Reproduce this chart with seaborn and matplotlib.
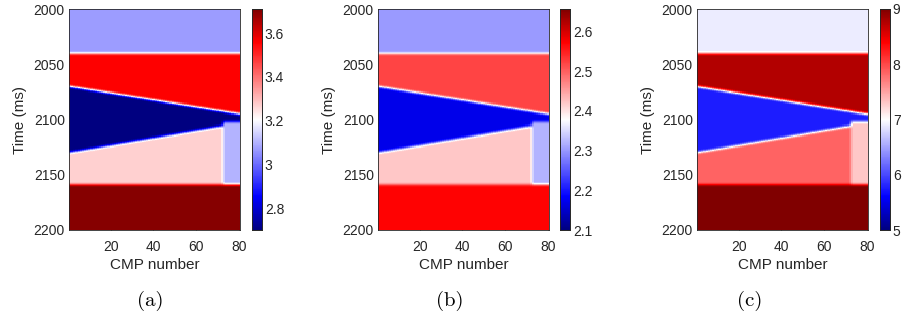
import numpy as np
import pandas as pd
import matplotlib
matplotlib.use("Agg")
import matplotlib.pyplot as plt
from matplotlib.colors import LinearSegmentedColormap
import seaborn as sns

# Axes grid
cmp_numbers = np.arange(1, 81)
time_ms = np.arange(2000, 2201)

# Model geometry (ms)
layer1_base = 2040
layer4_base = 2159
wedge_top_ends = [2070, 2095]    # at CMP 1 and CMP 80
wedge_base_ends = [2130, 2106]   # at CMP 1 and CMP 72
pinch_cmp = 73
pinch_base = 2102

# Layer values per panel: top, layer 2, wedge, below wedge, below wedge (right end), bottom
panel_labels = ["(a)", "(b)", "(c)"]
layer_values = {
    "(a)": [3.07, 3.56, 2.70, 3.27, 3.10, 3.70],
    "(b)": [2.30, 2.52, 2.17, 2.42, 2.32, 2.57],
    "(c)": [6.90, 8.75, 5.75, 7.85, 7.30, 9.00],
}
color_limits = {"(a)": (2.7, 3.71), "(b)": (2.1, 2.656), "(c)": (5.0, 9.0)}
cbar_ticks = {
    "(a)": [2.8, 3.0, 3.2, 3.4, 3.6],
    "(b)": [2.1, 2.2, 2.3, 2.4, 2.5, 2.6],
    "(c)": [5, 6, 7, 8, 9],
}
cbar_ticklabels = {
    "(a)": ["2.8", "3", "3.2", "3.4", "3.6"],
    "(b)": ["2.1", "2.2", "2.3", "2.4", "2.5", "2.6"],
    "(c)": ["5", "6", "7", "8", "9"],
}

cmap = LinearSegmentedColormap.from_list(
    "bwr_matlab",
    [(0.0, (0.0, 0.0, 0.5)), (0.15, (0.0, 0.0, 1.0)), (0.5, (1.0, 1.0, 1.0)),
     (0.85, (1.0, 0.0, 0.0)), (1.0, (0.5, 0.0, 0.0))],
)


def coverage(t, edge):
    # fraction of each 1 ms cell lying above an interface (anti-aliased edge)
    return np.clip(edge - (t - 0.5), 0.0, 1.0)


def smooth(sec, k, axis):
    k = np.asarray(k, dtype=float)
    k /= k.sum()
    h = len(k) // 2
    pad = ((h, h), (0, 0)) if axis == 0 else ((0, 0), (h, h))
    padded = np.pad(sec, pad, mode="edge")
    return np.apply_along_axis(lambda v: np.convolve(v, k, mode="valid"), axis, padded)


def build_section(vals):
    top, l2, wedge, below, below_right, bottom = vals
    t = time_ms[:, None].astype(float)
    c = cmp_numbers[None, :].astype(float)
    w_top = wedge_top_ends[0] + (wedge_top_ends[1] - wedge_top_ends[0]) * (c - 1) / 79
    w_base = wedge_base_ends[0] + (wedge_base_ends[1] - wedge_base_ends[0]) * (c - 1) / 71
    w_base = np.where(c >= pinch_cmp, pinch_base, w_base)
    below_val = np.where(c >= pinch_cmp, below_right, below)

    sec = np.full((len(time_ms), len(cmp_numbers)), bottom, dtype=float)
    f = coverage(t, layer4_base)
    sec = f * below_val + (1 - f) * sec
    f = coverage(t, w_base)
    sec = f * wedge + (1 - f) * sec
    f = coverage(t, w_top)
    sec = f * l2 + (1 - f) * sec
    f = coverage(t, layer1_base)
    sec = f * top + (1 - f) * sec

    # slight smoothing like an inversion result
    sec = smooth(sec, [1, 2, 3, 2, 1], axis=0)
    sec = smooth(sec, [1, 2, 1], axis=1)
    return pd.DataFrame(sec, index=time_ms, columns=cmp_numbers)


sns.set_style("white")
plt.rcParams["font.family"] = ["Liberation Sans", "DejaVu Sans"]

fig = plt.figure(figsize=(9.02, 3.26), dpi=100)
W, H = 902.0, 326.0
ax_left = [69, 378, 697]
cb_left = [252, 560, 880]
top_px, bot_px = 9, 230
text_col = "#262626"

for i, lab in enumerate(panel_labels):
    ax = fig.add_axes([ax_left[i] / W, 1 - bot_px / H, 171 / W, (bot_px - top_px) / H])
    cax = fig.add_axes([cb_left[i] / W, 1 - bot_px / H, 10 / W, (bot_px - top_px) / H])
    vmin, vmax = color_limits[lab]
    df = build_section(layer_values[lab])
    sns.heatmap(df, ax=ax, cmap=cmap, vmin=vmin, vmax=vmax, cbar_ax=cax,
                xticklabels=False, yticklabels=False)

    ax.set_xticks([19.5, 39.5, 59.5, 79.5])
    ax.set_xticklabels(["20", "40", "60", "80"], rotation=0)
    ax.set_yticks([0.5, 50.5, 100.5, 150.5, 200.5])
    ax.set_yticklabels(["2000", "2050", "2100", "2150", "2200"], rotation=0)
    ax.tick_params(direction="in", length=3, width=0.6, colors=text_col,
                   labelsize=10, left=True, bottom=True)
    ax.tick_params(axis="x", pad=7)
    ax.tick_params(axis="y", pad=3)
    for s in ax.spines.values():
        s.set_visible(True)
        s.set_linewidth(0.6)
        s.set_color(text_col)
    ax.set_xlabel("CMP number", fontsize=11, color=text_col, labelpad=3)
    ax.set_ylabel("Time (ms)", fontsize=11, color=text_col, labelpad=5)

    cax.set_yticks(cbar_ticks[lab])
    cax.set_yticklabels(cbar_ticklabels[lab])
    cax.tick_params(direction="in", length=2, width=0.5, colors=text_col,
                    labelsize=10, pad=2)
    for s in cax.spines.values():
        s.set_visible(True)
        s.set_linewidth(0.6)
        s.set_color(text_col)

    fig.text((150 + 300 * i) / W, 1 - 301 / H, lab, ha="center", va="center",
             fontsize=15, family=["cmr10", "DejaVu Serif"], color="black")

fig.savefig("out.png", dpi=100)
